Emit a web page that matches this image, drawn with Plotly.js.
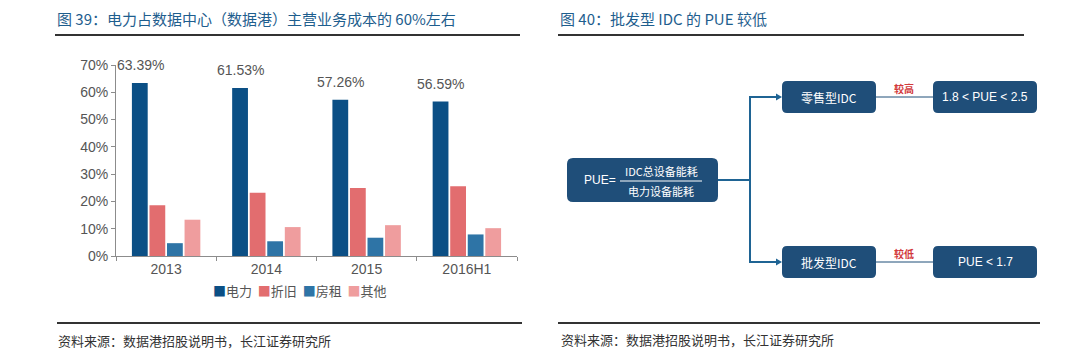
<!DOCTYPE html>
<html>
<head>
<meta charset="utf-8">
<script src="https://cdn.plot.ly/plotly-3.0.1.min.js"></script>
<style>html,body{margin:0;padding:0;background:#fff;}#chart{width:1080px;height:353px;}</style>
</head>
<body>
<div id="chart"></div>
<script>
// ---- data (left chart) ----
const categories = ['2013', '2014', '2015', '2016H1'];
const seriesNames = ['电力', '折旧', '房租', '其他'];
const power = [63.39, 61.53, 57.26, 56.59];
const depreciation = [18.6, 23.2, 24.9, 25.6];
const rent = [4.7, 5.4, 6.7, 7.9];
const other = [13.3, 10.6, 11.3, 10.2];
const powerLabels = ['63.39%', '61.53%', '57.26%', '56.59%'];
const yTickVals = [0, 10, 20, 30, 40, 50, 60, 70];
const yTickText = ['0%', '10%', '20%', '30%', '40%', '50%', '60%', '70%'];
const colors = ['#0B4F85', '#E26D6F', '#2E74A6', '#EF9D9E'];

// ---- diagram (right chart) ----
const rootLabel = 'PUE=';
const fracTop = 'IDC总设备能耗';
const fracBottom = '电力设备能耗';
const typeLabels = ['零售型IDC', '批发型IDC'];
const rangeLabels = ['1.8 < PUE < 2.5', 'PUE < 1.7'];
const relationLabels = ['较高', '较低'];

const titleLeft = '图 39：电力占数据中心（数据港）主营业务成本的 60%左右';
const titleRight = '图 40：批发型 IDC 的 PUE 较低';
const sourceText = '资料来源：数据港招股说明书，长江证券研究所';

const W = 1080, H = 353;
const CJK = '"Noto Sans CJK SC", "Liberation Sans", sans-serif';
const NUM = '"Liberation Sans", Arial, sans-serif';
const px = v => v / W;
const py = v => 1 - v / H;

const values = [power, depreciation, rent, other];
const traces = values.map((vals, i) => ({
  type: 'bar', x: categories, y: vals, name: seriesNames[i],
  marker: {color: colors[i]}, xaxis: 'x', yaxis: 'y', hoverinfo: 'skip'
}));

const annotations = [];
// data labels above 电力 bars (x as category index)
categories.forEach((c, i) => {
  annotations.push({x: i, y: power[i], xref: 'x', yref: 'y', text: powerLabels[i],
    showarrow: false, xanchor: 'center', yanchor: 'bottom', xshift: -26, yshift: 8,
    font: {family: NUM, size: 14, color: '#555'}});
});
// legend
const legendText = seriesNames.map((n, i) =>
  `<span style="color:${colors[i]}">■</span>${n}`).join('  ');
annotations.push({xref: 'paper', yref: 'paper', x: px(300), y: py(290), text: legendText,
  showarrow: false, xanchor: 'center', yanchor: 'middle',
  font: {family: CJK, size: 13, color: '#555'}});
// titles & sources
annotations.push({xref: 'paper', yref: 'paper', x: px(55), y: py(18), text: titleLeft, showarrow: false,
  xanchor: 'left', yanchor: 'middle', font: {family: CJK, size: 15, color: '#1E5E8E'}});
annotations.push({xref: 'paper', yref: 'paper', x: px(558), y: py(18), text: titleRight, showarrow: false,
  xanchor: 'left', yanchor: 'middle', font: {family: CJK, size: 15, color: '#1E5E8E'}});
annotations.push({xref: 'paper', yref: 'paper', x: px(56), y: py(340), text: sourceText, showarrow: false,
  xanchor: 'left', yanchor: 'middle', font: {family: CJK, size: 13, color: '#333'}});
annotations.push({xref: 'paper', yref: 'paper', x: px(559), y: py(339), text: sourceText, showarrow: false,
  xanchor: 'left', yanchor: 'middle', font: {family: CJK, size: 13, color: '#333'}});

// diagram geometry (pixel coordinates on an invisible full-page axis pair)
const BOX = '#1F4E79';
const LINK = '#1F6494';
function rrect(x0, y0, x1, y1, r) {
  return `M ${x0 + r},${y0} H ${x1 - r} Q ${x1},${y0} ${x1},${y0 + r} V ${y1 - r} Q ${x1},${y1} ${x1 - r},${y1} H ${x0 + r} Q ${x0},${y1} ${x0},${y1 - r} V ${y0 + r} Q ${x0},${y0} ${x0 + r},${y0} Z`;
}
const shapes = [];
const dshape = (o) => shapes.push(Object.assign({xref: 'x2', yref: 'y2', layer: 'above'}, o));
// header / footer rules
shapes.push({type: 'line', xref: 'paper', yref: 'paper', x0: px(55), x1: px(520), y0: py(35), y1: py(35), line: {color: '#333', width: 2}});
shapes.push({type: 'line', xref: 'paper', yref: 'paper', x0: px(558), x1: px(1024), y0: py(35), y1: py(35), line: {color: '#333', width: 2}});
shapes.push({type: 'line', xref: 'paper', yref: 'paper', x0: px(57), x1: px(522), y0: py(323), y1: py(323), line: {color: '#333', width: 2}});
shapes.push({type: 'line', xref: 'paper', yref: 'paper', x0: px(558), x1: px(1040), y0: py(323), y1: py(323), line: {color: '#333', width: 2}});

// root box
dshape({type: 'path', path: rrect(567, 158, 718, 202, 6), fillcolor: BOX, line: {width: 0}});
// type and range boxes
const rowY = [97, 262];
rowY.forEach((yc, i) => {
  dshape({type: 'path', path: rrect(782, yc - 16, 876, yc + 16, 5), fillcolor: BOX, line: {width: 0}});
  dshape({type: 'path', path: rrect(933, yc - 16, 1037, yc + 16, 5), fillcolor: BOX, line: {width: 0}});
  dshape({type: 'line', x0: 876, x1: 933, y0: yc, y1: yc, line: {color: BOX, width: 1}});
  dshape({type: 'line', x0: 750, x1: 777, y0: yc, y1: yc, line: {color: LINK, width: 2}});
  dshape({type: 'path', path: `M 776,${yc - 3.5} L 782,${yc} L 776,${yc + 3.5} Z`, fillcolor: LINK, line: {width: 0}});
  annotations.push({xref: 'x2', yref: 'y2', x: 829, y: yc, text: typeLabels[i], showarrow: false,
    font: {family: CJK, size: 12, color: '#fff'}});
  annotations.push({xref: 'x2', yref: 'y2', x: 985, y: yc, text: rangeLabels[i], showarrow: false,
    font: {family: NUM, size: 12, color: '#fff'}});
  annotations.push({xref: 'x2', yref: 'y2', x: 904, y: yc - 9, text: '<b>' + relationLabels[i] + '</b>', showarrow: false,
    font: {family: CJK, size: 10, color: '#D23A3C'}});
});
dshape({type: 'line', x0: 718, x1: 750, y0: 180, y1: 180, line: {color: LINK, width: 2}});
dshape({type: 'line', x0: 750, x1: 750, y0: 96, y1: 263, line: {color: LINK, width: 2}});
// fraction
dshape({type: 'line', x0: 620, x1: 702, y0: 181, y1: 181, line: {color: '#fff', width: 1}});
annotations.push({xref: 'x2', yref: 'y2', x: 600, y: 180, text: rootLabel, showarrow: false,
  font: {family: NUM, size: 12, color: '#fff'}});
annotations.push({xref: 'x2', yref: 'y2', x: 661, y: 171, text: fracTop, showarrow: false,
  font: {family: CJK, size: 11, color: '#fff'}});
annotations.push({xref: 'x2', yref: 'y2', x: 661, y: 191, text: fracBottom, showarrow: false,
  font: {family: CJK, size: 11, color: '#fff'}});

const layout = {
  width: W, height: H, margin: {l: 0, r: 0, t: 0, b: 0},
  paper_bgcolor: '#fff', plot_bgcolor: 'rgba(0,0,0,0)',
  showlegend: false, barmode: 'group', bargap: 0.3, bargroupgap: 0.1,
  xaxis: {domain: [px(116), px(517)], type: 'category', range: [-0.5, categories.length - 0.5],
    autorange: false, showline: true, linecolor: '#8c8c8c', linewidth: 1,
    ticks: 'outside', tickson: 'boundaries', ticklen: 4, tickcolor: '#8c8c8c', tickangle: 0,
    tickfont: {family: NUM, size: 14, color: '#555'}, showgrid: false, fixedrange: true},
  yaxis: {domain: [py(256), py(65)], range: [0, 70], autorange: false, showline: true, linecolor: '#8c8c8c', linewidth: 1,
    ticks: 'outside', ticklen: 4, tickcolor: '#8c8c8c', tickvals: yTickVals, ticktext: yTickText,
    tickfont: {family: NUM, size: 14, color: '#555'}, showgrid: false, zeroline: false, fixedrange: true},
  xaxis2: {domain: [0, 1], range: [0, W], autorange: false, visible: false, anchor: 'y2', fixedrange: true},
  yaxis2: {domain: [0, 1], range: [H, 0], autorange: false, visible: false, anchor: 'x2', fixedrange: true},
  shapes: shapes, annotations: annotations
};
Plotly.newPlot('chart', traces, layout, {staticPlot: true, displayModeBar: false});
</script>
</body>
</html>
